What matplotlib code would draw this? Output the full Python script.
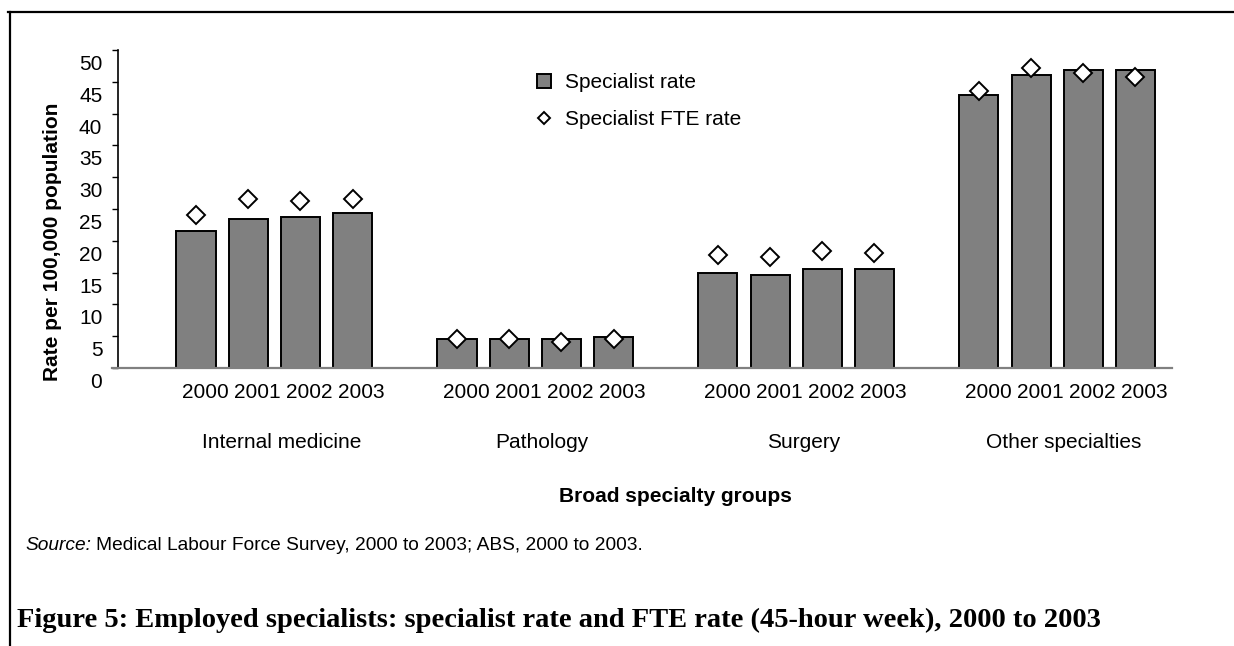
import matplotlib
matplotlib.use("Agg")
import matplotlib.pyplot as plt
from matplotlib.lines import Line2D
from matplotlib.transforms import ScaledTranslation

plt.rcParams['font.family'] = ['Liberation Sans', 'DejaVu Sans']

groups = ['Internal medicine', 'Pathology', 'Surgery', 'Other specialties']
years = ['2000', '2001', '2002', '2003']

specialist_rate = [
    [21.5, 23.4, 23.7, 24.4],
    [4.5, 4.5, 4.5, 4.8],
    [15.0, 14.7, 15.6, 15.6],
    [43.0, 46.1, 46.8, 46.8],
]
fte_rate = [
    [24.1, 26.5, 26.2, 26.5],
    [4.5, 4.5, 4.1, 4.5],
    [17.8, 17.5, 18.4, 18.1],
    [43.6, 47.1, 46.4, 45.8],
]
y_ticks = list(range(0, 51, 5))

fig = plt.figure(figsize=(12.34, 6.46), dpi=100)
ax = fig.add_axes([118 / 1234, 1 - 368 / 646, (1172 - 118) / 1234, (368 - 50) / 646])

# 4 bars per group, one empty slot between groups
xs, rates, ftes, labels = [], [], [], []
for g in range(len(groups)):
    for j in range(len(years)):
        xs.append(g * 5 + j)
        rates.append(specialist_rate[g][j])
        ftes.append(fte_rate[g][j])
        labels.append(years[j])

ax.bar(xs, rates, width=0.75, color='#808080', edgecolor='black', linewidth=1.4, zorder=2)
ax.plot(xs, ftes, linestyle='none', marker='D', markersize=9.5,
        markerfacecolor='white', markeredgecolor='black', markeredgewidth=1.4, zorder=3)

ax.set_xlim(-1.494, 18.70)
ax.set_ylim(0, 50)

for s in ['top', 'right']:
    ax.spines[s].set_visible(False)
ax.spines['left'].set_linewidth(1.2)
ax.spines['bottom'].set_color('#808080')
ax.spines['bottom'].set_linewidth(1.6)
ax.spines['bottom'].set_bounds(-1.494 - 6 / 52.2, 18.70)

ax.set_yticks(y_ticks)
ax.tick_params(axis='y', direction='out', length=4.3, width=1, labelsize=15, pad=7)
ax.set_xticks(xs)
ax.set_xticklabels(labels)
ax.tick_params(axis='x', length=0, labelsize=15, pad=11)

# labels in the original sit a bit off their ticks
for lab in ax.get_yticklabels():
    lab.set_transform(lab.get_transform() + ScaledTranslation(0, -0.125, fig.dpi_scale_trans))
for lab in ax.get_xticklabels():
    lab.set_transform(lab.get_transform() + ScaledTranslation(0.09, 0, fig.dpi_scale_trans))

for g, name in enumerate(groups):
    ax.text(g * 5 + 1.5, 0, name, fontsize=15, ha='center', va='center',
            transform=ax.get_xaxis_transform() + ScaledTranslation(0.07, -0.74, fig.dpi_scale_trans))

fig.text(675 / 1234, 1 - 496 / 646, 'Broad specialty groups', fontsize=15, fontweight='bold',
         ha='center', va='center')
fig.text(53 / 1234, 1 - 242 / 646, 'Rate per 100,000 population', fontsize=15, fontweight='bold',
         ha='center', va='center', rotation=90)

handles = [
    Line2D([], [], linestyle='none', marker='s', markersize=9.5, markerfacecolor='#808080',
           markeredgecolor='black', markeredgewidth=1.4),
    Line2D([], [], linestyle='none', marker='D', markersize=6.5, markerfacecolor='white',
           markeredgecolor='black', markeredgewidth=1.4),
]
fig.legend(handles, ['Specialist rate', 'Specialist FTE rate'], loc='upper left',
           bbox_to_anchor=(523 / 1234, 1 - 63 / 646), frameon=False, fontsize=15,
           handlelength=1.0, handletextpad=0.5, labelspacing=0.85, borderpad=0)

src = fig.text(25 / 1234, 1 - 545 / 646, 'Source:', fontsize=13.8, style='italic',
               ha='left', va='center')
ax.annotate('Medical Labour Force Survey, 2000 to 2003; ABS, 2000 to 2003.',
            xy=(1, 0.5), xycoords=src, xytext=(3.5, 0), textcoords='offset points',
            fontsize=13.8, ha='left', va='center', annotation_clip=False)

fig.text(17 / 1234, 1 - 620 / 646,
         'Figure 5: Employed specialists: specialist rate and FTE rate (45-hour week), 2000 to 2003',
         fontsize=20.5, fontweight='bold', family=['Liberation Serif', 'DejaVu Serif'],
         ha='left', va='center')

# page frame: top and left rules
fig.add_artist(Line2D([8 / 1234, 1], [1 - 12 / 646, 1 - 12 / 646], color='black', linewidth=1.6))
fig.add_artist(Line2D([10 / 1234, 10 / 1234], [0, 1 - 12 / 646], color='black', linewidth=1.6))

fig.savefig('out.png', dpi=100)
